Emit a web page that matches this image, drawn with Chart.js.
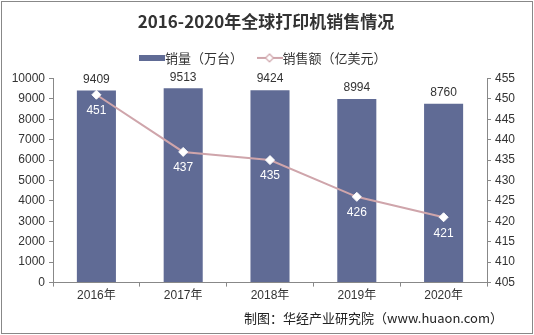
<!DOCTYPE html>
<html>
<head>
<meta charset="utf-8">
<script src="https://cdn.jsdelivr.net/npm/chart.js@4"></script>
<style>
    html, body { margin: 0; padding: 0; background: #fff; }
    #wrap { width: 534px; height: 335px; }
</style>
</head>
<body>
<div id="wrap"><canvas id="chart" width="534" height="335"></canvas></div>
<script>
// data
const years = ['2016年', '2017年', '2018年', '2019年', '2020年'];
const salesVolume = [9409, 9513, 9424, 8994, 8760];   // 万台
const salesAmount = [451, 437, 435, 426, 421];        // 亿美元
const leftTicks = [0, 10000, 1000];
const rightTicks = [405, 455, 5];

const barColor = '#606b95';
const lineColor = '#cfa5ab';
const fontFam = '"Liberation Sans", "Noto Sans CJK SC", sans-serif';

// legend icons
function barIcon() {
    var c = document.createElement('canvas');
    c.width = 26; c.height = 6;
    var g = c.getContext('2d');
    g.fillStyle = barColor;
    g.fillRect(0, 0, 26, 6);
    return c;
}
function lineIcon() {
    var c = document.createElement('canvas');
    c.width = 26; c.height = 10;
    var g = c.getContext('2d');
    g.strokeStyle = lineColor;
    g.lineWidth = 2;
    g.beginPath(); g.moveTo(0, 5); g.lineTo(26, 5); g.stroke();
    g.fillStyle = '#fff';
    g.beginPath(); g.moveTo(13, 1); g.lineTo(17, 5); g.lineTo(13, 9); g.lineTo(9, 5); g.closePath();
    g.fill(); g.lineWidth = 1.2; g.stroke();
    return c;
}

// a few px more room under the legend
var legendGap = {
    id: 'legendGap',
    afterInit: function(chart) {
        var lg = chart.legend;
        var fit = lg.fit;
        lg.fit = function() {
            fit.call(this);
            this.height += 4;
        };
    }
};

var extras = {
    id: 'extras',
    afterDatasetsDraw: function(chart) {
        var ctx = chart.ctx;
        ctx.save();
        ctx.font = '12px ' + fontFam;
        ctx.textAlign = 'center';
        // bar values above
        var barMeta = chart.getDatasetMeta(0);
        ctx.fillStyle = '#333';
        ctx.textBaseline = 'bottom';
        barMeta.data.forEach(function(el, i) {
            ctx.fillText(salesVolume[i], el.x, el.y - 5);
        });
        // line values below points
        var lineMeta = chart.getDatasetMeta(1);
        ctx.fillStyle = '#fff';
        ctx.textBaseline = 'top';
        lineMeta.data.forEach(function(el, i) {
            ctx.fillText(salesAmount[i], el.x, el.y + 10);
        });
        ctx.restore();
    },
    afterDraw: function(chart) {
        var ctx = chart.ctx;
        ctx.save();
        ctx.font = '13px "Noto Sans CJK SC", sans-serif';
        ctx.fillStyle = '#222';
        ctx.textAlign = 'right';
        ctx.textBaseline = 'middle';
        ctx.fillText('制图：华经产业研究院（www.huaon.com）', 503, 318);
        ctx.strokeStyle = '#888';
        ctx.lineWidth = 1;
        ctx.strokeRect(1.5, 1.5, 531, 332);
        ctx.restore();
    }
};

var chartConfig = {
    type: 'bar',
    data: {
        labels: years,
        datasets: [{
            type: 'bar',
            label: '销量（万台）',
            data: salesVolume,
            backgroundColor: barColor,
            yAxisID: 'y',
            categoryPercentage: 0.9,
            barPercentage: 0.5,
            order: 2
        }, {
            type: 'line',
            label: '销售额（亿美元',
            data: salesAmount,
            borderColor: lineColor,
            borderWidth: 2,
            pointStyle: 'rectRot',
            pointRadius: 4.5,
            pointBackgroundColor: '#fff',
            pointBorderColor: '#fff',
            pointBorderWidth: 1,
            yAxisID: 'y1',
            tension: 0,
            order: 1
        }]
    },
    options: {
        responsive: false,
        animation: false,
        layout: { padding: { left: 3, right: 5, top: 0, bottom: 30 } },
        plugins: {
            tooltip: { enabled: false },
            title: {
                display: true,
                text: '2016-2020年全球打印机销售情况',
                color: '#333',
                font: { family: '"Noto Sans CJK SC", serif', size: 17, weight: 'bold' },
                padding: { top: 11, bottom: 0 }
            },
            legend: {
                display: true,
                labels: {
                    color: '#333',
                    font: { family: '"Noto Sans CJK SC", sans-serif', size: 13 },
                    usePointStyle: true,
                    boxHeight: 10,
                    padding: 20,
                    generateLabels: function(chart) {
                        return [
                            { text: '销量（万台）', pointStyle: barIcon(), datasetIndex: 0, fontColor: '#333', lineWidth: 0, strokeStyle: 'transparent' },
                            { text: '销售额（亿美元）', pointStyle: lineIcon(), datasetIndex: 1, fontColor: '#333', lineWidth: 0, strokeStyle: 'transparent' }
                        ];
                    }
                }
            }
        },
        scales: {
            x: {
                grid: { drawOnChartArea: false, color: '#888', tickLength: 4 },
                border: { color: '#888' },
                ticks: { color: '#333', font: { family: fontFam, size: 12 }, padding: 2 }
            },
            y: {
                position: 'left',
                min: leftTicks[0], max: leftTicks[1],
                afterFit: function(s) { s.width = 50; },
                grid: { drawOnChartArea: false, color: '#888', tickLength: 4 },
                border: { color: '#888' },
                ticks: {
                    stepSize: leftTicks[2], color: '#333', font: { family: fontFam, size: 12 }, padding: 4,
                    callback: function(v) { return String(v); }
                }
            },
            y1: {
                position: 'right',
                min: rightTicks[0], max: rightTicks[1],
                afterFit: function(s) { s.width = 42; },
                grid: { drawOnChartArea: false, color: '#888', tickLength: 4 },
                border: { color: '#888' },
                ticks: { stepSize: rightTicks[2], color: '#333', font: { family: fontFam, size: 12 }, padding: 4 }
            }
        }
    },
    plugins: [legendGap, extras]
};

new Chart(document.getElementById('chart').getContext('2d'), chartConfig);
</script>
</body>
</html>
